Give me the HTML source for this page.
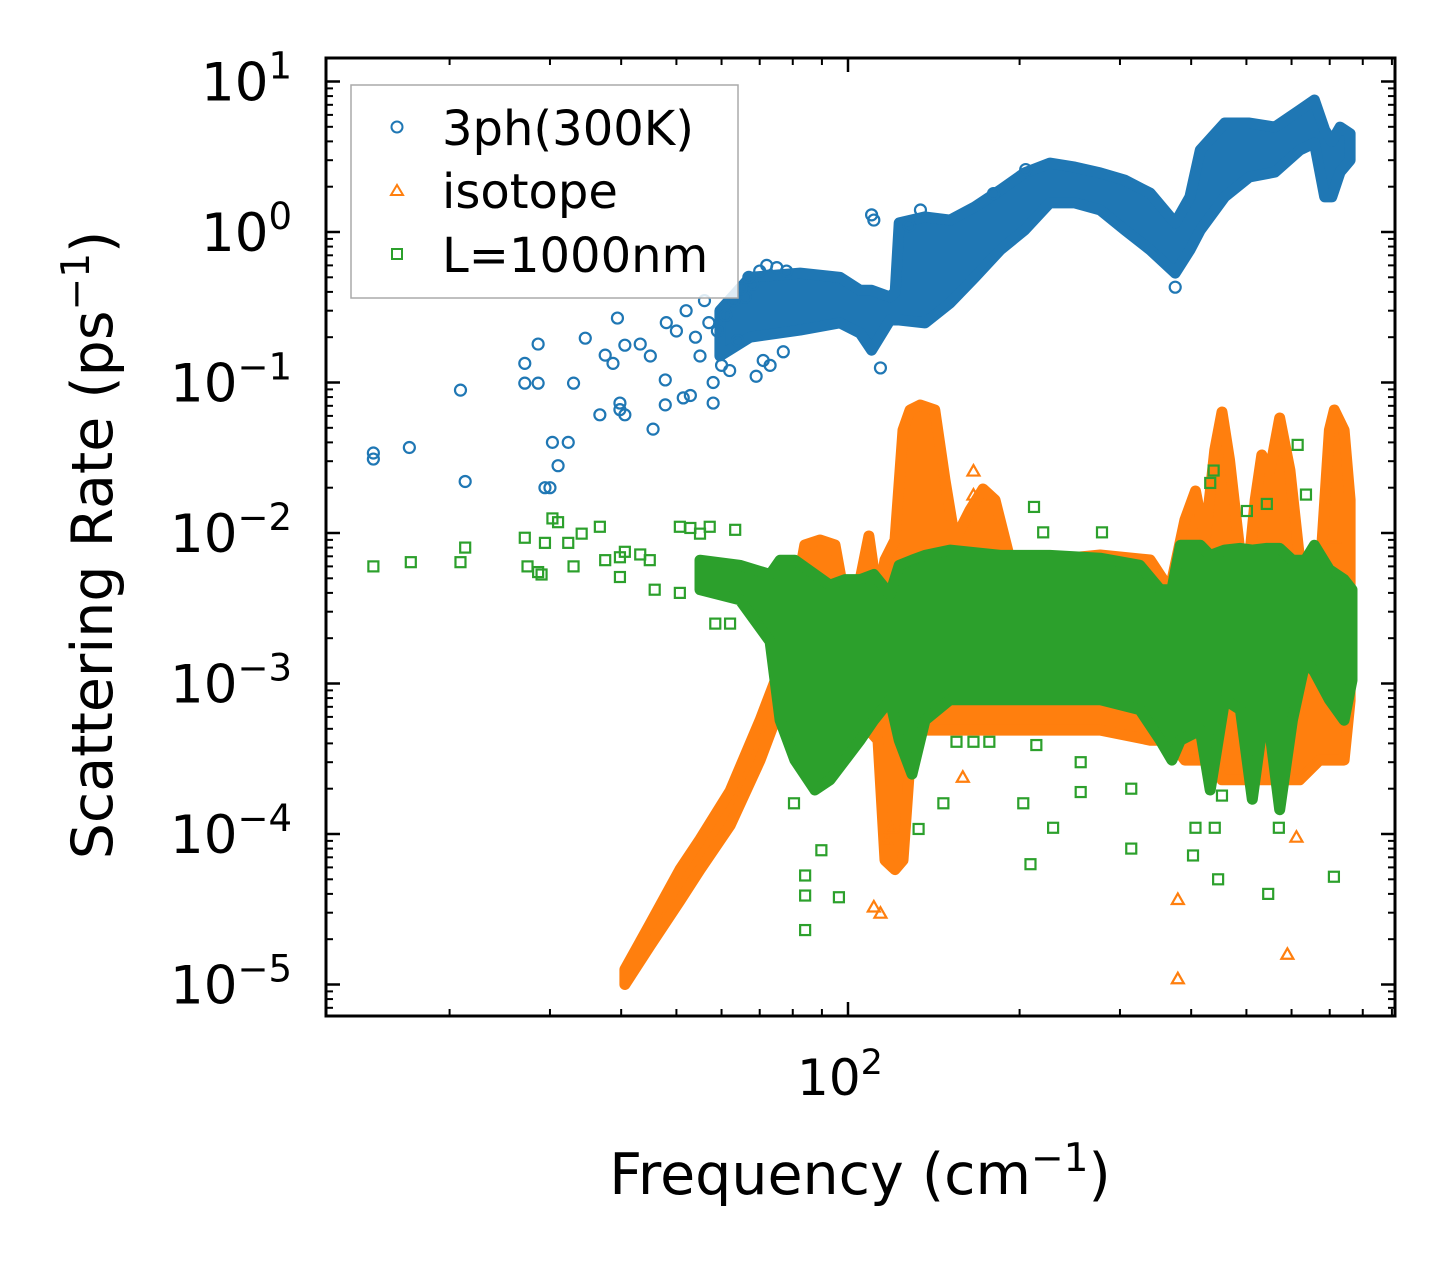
<!DOCTYPE html>
<html><head><meta charset="utf-8"><style>
html,body{margin:0;padding:0;background:#fff;}
svg{display:block;font-family:"DejaVu Sans","Liberation Sans",sans-serif;}
</style></head><body>
<svg id="chart" width="1455" height="1266" viewBox="0 0 1455 1266" xmlns="http://www.w3.org/2000/svg">
<rect width="1455" height="1266" fill="#fff"/>
<g id="plot"></g>
<g id="axes"></g>
<g id="legend">
  <rect x="351" y="85" width="387" height="213" fill="#fff" fill-opacity="0.85" stroke="#aaa" stroke-width="1.5"/>
  <circle cx="397" cy="127" r="5.5" fill="none" stroke="#1f77b4" stroke-width="2"/>
  <text x="442" y="145" font-size="48">3ph(300K)</text>
  <path d="M391,195 L397,185 L403,195 Z" fill="none" stroke="#ff7f0e" stroke-width="2"/>
  <text x="442" y="208" font-size="48">isotope</text>
  <rect x="392" y="249" width="10" height="10" fill="none" stroke="#2ca02c" stroke-width="2"/>
  <text x="442" y="272" font-size="48">L=1000nm</text>
</g>
<text x="860" y="1194" font-size="57" text-anchor="middle">Frequency (cm<tspan dy="-23" font-size="39">−1</tspan><tspan dy="23">)</tspan></text>
<text transform="translate(112,545) rotate(-90)" font-size="57" text-anchor="middle">Scattering Rate (ps<tspan dy="-23" font-size="39">−1</tspan><tspan dy="23">)</tspan></text>
</svg>
<script>
// ---- data ----
const blueF  = [59.6,67.3,82.4,96.8,105,110,118.5,121,123,136.5,151,167,185,204,226,250,277,306,339,375,398,415,458,506,561,620,658,686,706,730,760];
const blueHi = [0.3,0.50,0.533,0.50,0.41,0.41,0.37,0.4,1.15,1.26,1.20,1.47,1.90,2.47,2.87,2.70,2.47,2.21,1.81,1.15,1.71,3.5,5.3,5.3,4.98,6.45,7.54,4.76,4.0,4.98,4.5];
const blueLo = [0.15,0.20,0.223,0.249,0.213,0.164,0.26,0.26,0.26,0.249,0.337,0.50,0.76,1.03,1.56,1.56,1.40,1.03,0.76,0.533,0.76,1.03,1.71,2.32,2.5,3.5,3.90,1.71,1.71,2.5,3.0];
const bluePtsF = [14.7,14.7,17,20.9,21.3,27.1,27.1,28.6,28.6,29.4,30,30.3,31,32.3,33,34.6,36.7,37.5,38.7,39.4,39.8,39.8,40.6,40.6,43.2,45.5,47.8,47.8,51.4,52.9,58,58,55,50,48,52,45,56,110,111,114,375,128,134,180,205,54,57,60,62,64,66,68,70,72,75,78,61,63,65,69,73,77,59,67,71];
const bluePtsV = [0.034,0.031,0.037,0.089,0.022,0.134,0.099,0.099,0.18,0.02,0.02,0.04,0.028,0.04,0.099,0.197,0.061,0.152,0.134,0.268,0.066,0.073,0.177,0.061,0.18,0.049,0.071,0.104,0.079,0.082,0.073,0.1,0.15,0.22,0.25,0.3,0.15,0.35,1.3,1.2,0.125,0.43,1.1,1.4,1.8,2.6,0.2,0.25,0.13,0.12,0.19,0.37,0.45,0.55,0.6,0.58,0.55,0.28,0.35,0.42,0.11,0.13,0.16,0.22,0.5,0.14];

const orF  = [40.6,44.9,50.7,55.0,62.1,70.1,74.5,77.5,80.7,84.0,89.3,94.9,98.8,105,108.8,112.9,116.1,120.9,124.9,128.5,133.8,142.0,148.0,154.0,163.7,172.5,181.1,192.5,226,277,339,367,390,407,423,440,453,467,498,518,532,550,572,596,620,672,699,713,742,760];
const orHi = [1.26e-5,2.5e-5,5.8e-5,9.2e-5,1.93e-4,5.7e-4,1.04e-3,3.59e-3,3.59e-3,8.32e-3,8.98e-3,8.32e-3,3.59e-3,4.88e-3,9.55e-3,3.59e-3,6.62e-3,8.98e-3,0.0483,0.0657,0.0709,0.0657,0.0225,8.98e-3,0.0142,0.0196,0.0166,6.62e-3,6.62e-3,7.14e-3,6.62e-3,4.18e-3,0.0122,0.019,8.98e-3,0.0356,0.0637,0.0306,3.59e-3,0.0166,0.033,0.0262,0.0581,0.0262,6.62e-3,4.88e-3,0.0483,0.0657,0.0483,0.0166];
const orLo = [1.0e-5,1.8e-5,3.6e-5,5.8e-5,1.14e-4,3.1e-4,5.7e-4,7.7e-4,6.7e-4,6.7e-4,5.7e-4,5.7e-4,5.7e-4,5.7e-4,4.9e-4,4.2e-4,6.7e-5,5.8e-5,6.7e-5,3.1e-4,4.9e-4,4.9e-4,4.9e-4,4.9e-4,4.9e-4,4.9e-4,4.9e-4,4.9e-4,4.9e-4,4.9e-4,4.2e-4,4.2e-4,3.1e-4,3.1e-4,3.1e-4,3.1e-4,2.29e-4,2.29e-4,2.29e-4,2.29e-4,2.29e-4,2.29e-4,2.29e-4,2.29e-4,2.29e-4,3.1e-4,3.1e-4,3.1e-4,3.1e-4,7.7e-4];
const orPtsF = [111,114,379,379,590,612,159,713,742,699,166,166,117,119];
const orPtsV = [3.3e-5,3.0e-5,3.7e-5,1.1e-5,1.6e-5,9.6e-5,2.4e-4,9.3e-3,5.4e-3,0.015,0.026,0.018,9e-5,1.1e-4];

const grF  = [55,64.6,73,76,80.7,87.5,93,98.8,105,111,118.5,123,129.5,136.5,151,185,226,277,325,353,370,383,415,432,458,488,512,541,572,602,634,658,699,742,766];
const grHi = [0.0066,0.0061,0.0053,0.0066,0.0066,0.0053,0.0045,0.0049,0.0049,0.0053,0.0039,0.0061,0.0066,0.0071,0.0077,0.0071,0.0071,0.0068,0.0061,0.0042,0.0042,0.0083,0.0083,0.0071,0.0077,0.0079,0.0077,0.0079,0.0079,0.0066,0.0066,0.0083,0.0057,0.0049,0.0042];
const grLo = [0.0042,0.0036,0.0019,0.00057,0.00031,0.000196,0.000229,0.00031,0.00042,0.00057,0.00078,0.00042,0.00025,0.00057,0.00078,0.00078,0.00078,0.00078,0.00067,0.00042,0.00031,0.00042,0.00049,0.000196,0.00078,0.00067,0.00017,0.00078,0.000145,0.00057,0.0014,0.0012,0.00078,0.00057,0.00105];
const grPtsF = [14.7,17.1,20.9,21.3,27.1,27.4,28.6,29,29.4,30.3,31,32.3,33,34.1,36.7,37.5,39.8,39.8,40.6,43.2,44.9,50.7,52.9,55,57.2,63.4,58.5,62.1,45.8,50.7,84.1,84.1,84.1,96.4,80.4,89.8,133,147,203,229,209,256,314,314,407,403,446,440,546,570,712,453,155,166,177,214,256,212,615,438,432,501,543,636,279,220];
const grPtsV = [0.006,0.0064,0.0064,0.008,0.0093,0.006,0.0055,0.0053,0.0086,0.0125,0.0118,0.0086,0.006,0.0099,0.011,0.0066,0.0069,0.0051,0.0075,0.0072,0.0066,0.011,0.0108,0.0099,0.011,0.0105,0.0025,0.0025,0.0042,0.004,5.3e-5,3.9e-5,2.3e-5,3.8e-5,1.6e-4,7.8e-5,1.08e-4,1.6e-4,1.6e-4,1.1e-4,6.3e-5,1.9e-4,2.0e-4,8.0e-5,1.1e-4,7.2e-5,5.0e-5,1.1e-4,4.0e-5,1.1e-4,5.2e-5,1.8e-4,4.1e-4,4.1e-4,4.1e-4,3.9e-4,3.0e-4,0.0149,0.0385,0.026,0.0215,0.014,0.0156,0.018,0.0101,0.0101];

const yTickExp = [1,0,-1,-2,-3,-4,-5];
const yTickLabels = ["1","0","−1","−2","−3","−4","−5"];
const xMajor = [100];
const xMajorLabels = ["2"];

// ---- axis functions ----
const X = f => 848 + 570*(Math.log10(f)-2);
const Y = v => 232 - 150.5*Math.log10(v);
const L=326,R=1395,T=58,B=1016;
const NS="http://www.w3.org/2000/svg";
const plot=document.getElementById('plot'), axes=document.getElementById('axes');
function mk(tag,attrs,parent){const e=document.createElementNS(NS,tag);for(const k in attrs)e.setAttribute(k,attrs[k]);parent.appendChild(e);return e;}

const clip=mk('clipPath',{id:'clp'},document.getElementById('chart'));
mk('rect',{x:L,y:T,width:R-L,height:B-T},clip);
plot.setAttribute('clip-path','url(#clp)');

function band(F,Lo,Hi,color,name){
  let pts=F.map((f,i)=>X(f).toFixed(1)+','+Y(Hi[i]).toFixed(1));
  for(let i=F.length-1;i>=0;i--)pts.push(X(F[i]).toFixed(1)+','+Y(Lo[i]).toFixed(1));
  const p=mk('polygon',{points:pts.join(' '),fill:color,stroke:color,'stroke-width':11,'stroke-linejoin':'round'},plot);
  
  
}
function circ(f,v){const e=mk('circle',{cx:X(f),cy:Y(v),r:5.5,fill:'none',stroke:'#1f77b4','stroke-width':2.2},plot);
  
  }
function tri(f,v){const x=X(f),y=Y(v);const e=mk('path',{d:`M${x-6},${y+5} L${x},${y-5.5} L${x+6},${y+5} Z`,fill:'none',stroke:'#ff7f0e','stroke-width':2.2},plot);
  
  }
function sq(f,v){const e=mk('rect',{x:X(f)-5,y:Y(v)-5,width:10,height:10,fill:'none',stroke:'#2ca02c','stroke-width':2.2},plot);
  
  }

band(blueF,blueLo,blueHi,'#1f77b4','band-3ph');
bluePtsF.forEach((f,i)=>circ(f,bluePtsV[i]));
band(orF,orLo,orHi,'#ff7f0e','band-isotope');
orPtsF.forEach((f,i)=>tri(f,orPtsV[i]));
band(grF,grLo,grHi,'#2ca02c','band-boundary');
grPtsF.forEach((f,i)=>sq(f,grPtsV[i]));

// ---- axes ----
const frame=mk('rect',{x:L,y:T,width:R-L,height:B-T,fill:'none',stroke:'#000','stroke-width':3},axes);


function tick(x1,y1,x2,y2,w){mk('line',{x1,y1,x2,y2,stroke:'#000','stroke-width':w},axes);}
for(let e=-6;e<=1;e++){
  for(let m=1;m<10;m++){
    const y=Y(m*Math.pow(10,e));
    if(y<T||y>B)continue;
    const len=m===1?14:7, w=m===1?2.5:2;
    tick(L,y,L+len,y,w); tick(R,y,R-len,y,w);
  }
}
yTickExp.forEach((e,i)=>{
  const y=Y(Math.pow(10,e));
  const t=mk('text',{x:292,y:y+19,'font-size':53,'text-anchor':'end'},axes);
  
  
  t.appendChild(document.createTextNode('10'));
  const s=mk('tspan',{dy:-22,'font-size':37},t); s.textContent=yTickLabels[i];
});
for(let e=1;e<=2;e++){
  for(let m=1;m<10;m++){
    const x=X(m*Math.pow(10,e));
    if(x<L||x>R)continue;
    const len=m===1?14:7, w=m===1?2.5:2;
    tick(x,B,x,B-len,w); tick(x,T,x,T+len,w);
  }
}
xMajor.forEach((f,i)=>{
  const t=mk('text',{x:X(f)-8,y:1095,'font-size':50,'text-anchor':'middle'},axes);
  
  
  t.appendChild(document.createTextNode('10'));
  const s=mk('tspan',{dy:-21,'font-size':35},t); s.textContent=xMajorLabels[i];
});
</script>
</body></html>
